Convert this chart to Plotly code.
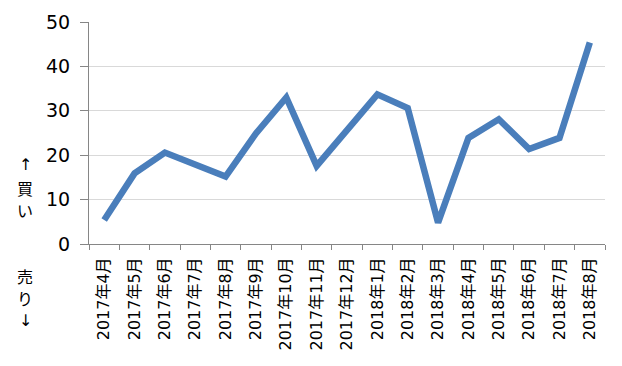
import plotly.graph_objects as go

categories = ["2017年4月", "2017年5月", "2017年6月", "2017年7月", "2017年8月", "2017年9月",
              "2017年10月", "2017年11月", "2017年12月", "2018年1月", "2018年2月", "2018年3月",
              "2018年4月", "2018年5月", "2018年6月", "2018年7月", "2018年8月"]
values = [5.4, 15.9, 20.6, 17.9, 15.2, 24.9, 33.0, 17.6, 25.9, 33.7, 30.6, 4.8,
          23.9, 28.1, 21.4, 23.9, 45.4]
y_ticks = [0, 10, 20, 30, 40, 50]
buy_chars = ["↑", "買", "い"]
sell_chars = ["売", "り", "↓"]

FONT = "DejaVu Sans, Noto Sans CJK JP, sans-serif"
OFF = 8  # page body margin
W, H = 622 - OFF, 366 - OFF
LEFT, RIGHT, TOP, BOTTOM = 89 - OFF, 605 - OFF, 22 - OFF, 244 - OFF
PW, PH = RIGHT - LEFT, BOTTOM - TOP

fig = go.Figure()
fig.add_trace(go.Scatter(
    x=categories, y=values, mode="lines",
    line=dict(color="#4a7ebb", width=6.5, shape="linear"),
    hoverinfo="skip",
))

fig.update_layout(
    width=W, height=H,
    margin=dict(l=LEFT, r=W - RIGHT, t=TOP, b=H - BOTTOM, autoexpand=False),
    paper_bgcolor="white", plot_bgcolor="white",
    showlegend=False,
    font=dict(family=FONT, color="black"),
    xaxis=dict(
        type="category", tickangle=-90, tickfont=dict(size=16, family=FONT),
        showgrid=False, showline=True, linecolor="#868686", linewidth=1,
        ticks="outside", ticklen=5, tickcolor="#868686", tickson="boundaries",
        range=[-0.5, len(categories) - 0.5], automargin=False,
        ticklabelstandoff=6,
    ),
    yaxis=dict(
        range=[0, 50], tickvals=y_ticks, tickfont=dict(size=19, family=FONT),
        showgrid=True, gridcolor="#d9d9d9", gridwidth=1,
        showline=True, linecolor="#868686", linewidth=1,
        ticks="outside", ticklen=8, tickcolor="#868686",
        zeroline=False, automargin=False, ticklabelstandoff=6,
    ),
)

def px_x(px):
    return (px - OFF - LEFT) / PW

def px_y(py):
    return (BOTTOM - (py - OFF)) / PH

for chars, ys in ((buy_chars, [164, 188, 210]), (sell_chars, [276, 298, 320])):
    for ch, py in zip(chars, ys):
        fam = "DejaVu Sans" if ch in "↑↓" else "Noto Sans CJK JP"
        fig.add_annotation(text=ch, xref="paper", yref="paper", x=px_x(25), y=px_y(py),
                           xanchor="center", yanchor="middle", showarrow=False,
                           font=dict(size=16, family=fam))

fig.write_html("out.html")
